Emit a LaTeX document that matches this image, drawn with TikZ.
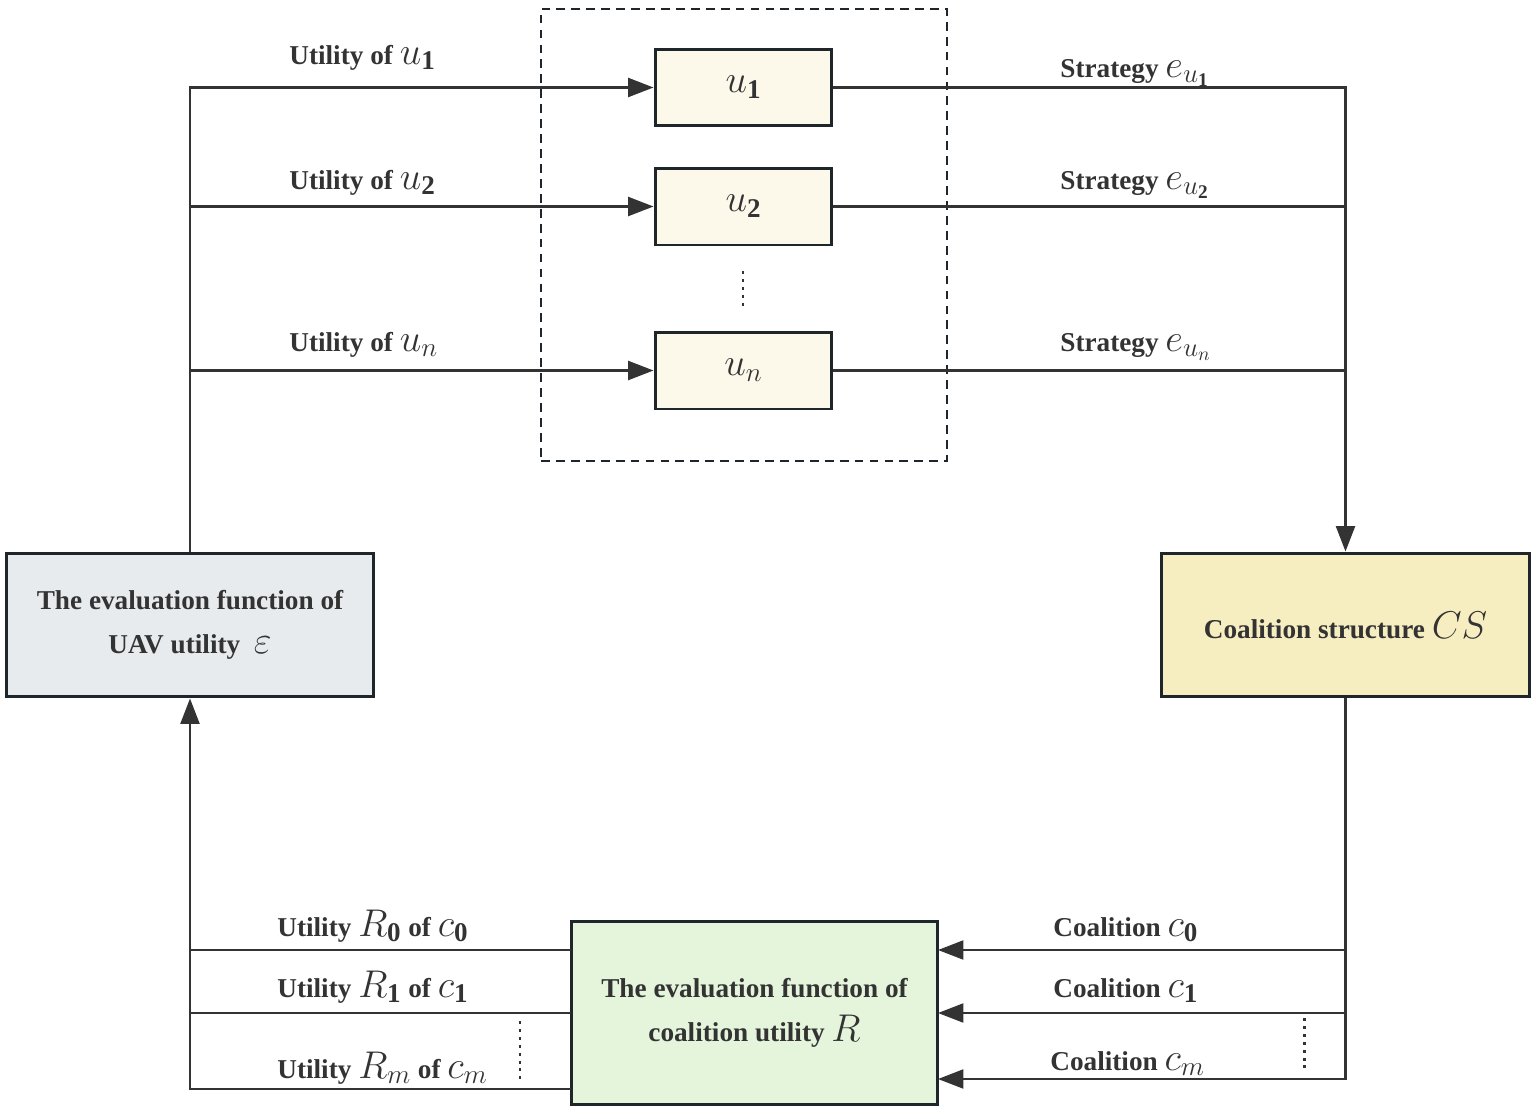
\RequirePackage{fix-cm}
\documentclass[tikz,border=0pt]{standalone}
\usepackage{fontspec}
\setmainfont{Liberation Serif}
\usetikzlibrary{arrows.meta}
\newcommand{\mth}[1]{{\fontsize{22}{22}\selectfont$#1$}}
\definecolor{lineC}{HTML}{333333}
\definecolor{borderC}{HTML}{1E262C}
\definecolor{evalFill}{HTML}{E8EBEE}
\definecolor{csFill}{HTML}{F6EDC0}
\definecolor{rFill}{HTML}{E4F5DC}
\definecolor{uFill}{HTML}{FCF8EA}
\tikzset{
  box/.style={draw=borderC, line width=1.7pt, rectangle, align=center, inner sep=0pt,
    font=\fontsize{15.5}{25}\selectfont\bfseries, text=lineC},
  ubox/.style={box, fill=uFill, minimum width=3.54cm, minimum height=1.54cm},
  conn/.style={draw=lineC, line width=1.4pt},
  arr/.style={conn, -{Triangle[length=14.5pt,width=10.8pt]}},
  lbl/.style={anchor=base west, inner sep=0pt, font=\fontsize{15.5}{18}\selectfont\bfseries, text=lineC},
  dashbox/.style={draw=borderC, line width=1.4pt, dash pattern=on 5pt off 3.5pt, rectangle, inner sep=0pt},
  dots/.style={draw=lineC, line width=1.7pt, dash pattern=on 1.7pt off 2.8pt}
}
\begin{document}
\begin{tikzpicture}[x=0.02cm,y=-0.02cm]
\useasboundingbox (0,0) rectangle (1536,1119);
% group
\node[dashbox, minimum width=8.12cm, minimum height=9.04cm] (grp) at (744,235) {};
% UAV boxes
\node[ubox] (u1) at (743.5,87.5) {\mth{u_{\mathbf{1}}}};
\node[ubox] (u2) at (743.5,206.5) {\mth{u_{\mathbf{2}}}};
\node[ubox] (un) at (743.5,370.5) {\mth{u_{n}}};
\draw[dots] (743,271) -- (743,306);
% main boxes
\node[box, fill=evalFill, minimum width=7.36cm, minimum height=2.88cm] (ev) at (190,625)
  {The evaluation function of\\UAV utility \ \mth{\varepsilon}};
\node[box, fill=csFill, minimum width=7.38cm, minimum height=2.88cm] (cs) at (1345.5,625)
  {Coalition structure \mth{CS}};
\node[box, fill=rFill, minimum width=7.34cm, minimum height=3.68cm] (R) at (754.5,1013)
  {The evaluation function of\\coalition utility \mth{R}};
% connection points on R
\coordinate (rin0) at (938,950);
\coordinate (rin1) at (938,1013);
\coordinate (rinm) at (938,1079);
\coordinate (rout0) at (571,950);
\coordinate (rout1) at (571,1013);
\coordinate (routm) at (571,1089);
% left to UAVs
\draw[arr] (ev.north) |- (u1.west);
\draw[arr] (ev.north |- u2.west) -- (u2.west);
\draw[arr] (ev.north |- un.west) -- (un.west);
% UAVs to CS
\draw[arr] (u1.east) -| (cs.north);
\draw[conn] (u2.east) -- (u2.east -| cs.north);
\draw[conn] (un.east) -- (un.east -| cs.north);
% CS to R
\draw[arr] (cs.south) |- (rinm);
\draw[arr] (cs.south |- rin0) -- (rin0);
\draw[arr] (cs.south |- rin1) -- (rin1);
% R to eval
\draw[arr] (routm) -| (ev.south);
\draw[conn] (rout0) -- (rout0 -| ev.south);
\draw[conn] (rout1) -- (rout1 -| ev.south);
\draw[dots] (520,1021) -- (520,1084);
\draw[dots] (1304,1018) -- (1304,1071);
% labels top
\node[lbl] (l1) at (289,64) {Utility of \mth{u_{\mathbf{1}}}};
\node[lbl] (l2) at (289,189) {Utility of \mth{u_{\mathbf{2}}}};
\node[lbl] (l3) at (289,351) {Utility of \mth{u_{n}}};
\node[lbl] (s1) at (1060,77) {Strategy \mth{e_{u_{\mathbf{1}}}}};
\node[lbl] (s2) at (1060,189) {Strategy \mth{e_{u_{\mathbf{2}}}}};
\node[lbl] (s3) at (1060,351) {Strategy \mth{e_{u_{n}}}};
% labels bottom
\node[lbl] (b0) at (277,936) {Utility \mth{R_{\mathbf{0}}} of \mth{c_{\mathbf{0}}}};
\node[lbl] (b1) at (277,997) {Utility \mth{R_{\mathbf{1}}} of \mth{c_{\mathbf{1}}}};
\node[lbl] (bm) at (277,1078) {Utility \mth{R_{m}} of \mth{c_{m}}};
\node[lbl] (c0) at (1053,936) {Coalition \mth{c_{\mathbf{0}}}};
\node[lbl] (c1) at (1053,997) {Coalition \mth{c_{\mathbf{1}}}};
\node[lbl] (cm) at (1050,1070) {Coalition \mth{c_{m}}};
\end{tikzpicture}
\end{document}
